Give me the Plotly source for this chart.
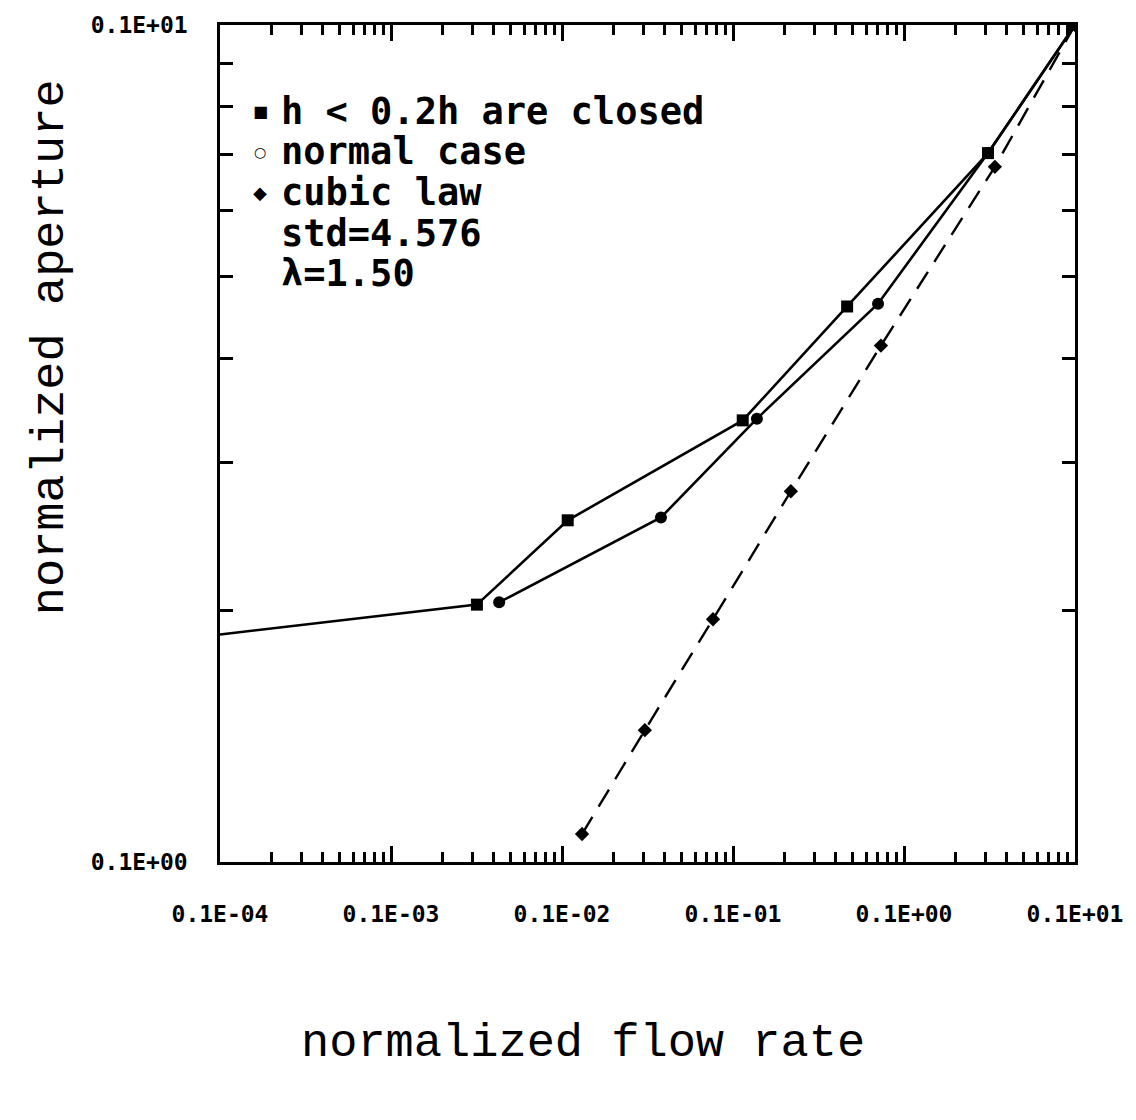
import plotly.graph_objects as go

# Normalized flow rate vs normalized aperture (log-log)
closed_q = [1.0e-5, 3.18e-4, 1.08e-3, 1.14e-2, 4.65e-2, 0.310, 1.0]
closed_h = [0.187, 0.203, 0.256, 0.337, 0.461, 0.703, 1.0]

normal_q = [4.29e-4, 3.79e-3, 1.38e-2, 7.05e-2, 0.310, 1.0]
normal_h = [0.2043, 0.258, 0.3386, 0.4646, 0.703, 1.0]

cubic_q = [1.31e-3, 3.05e-3, 7.64e-3, 2.18e-2, 7.33e-2, 0.340, 1.0]
cubic_h = [0.108, 0.1437, 0.195, 0.2773, 0.414, 0.677, 1.0]

x_decades = [1e-5, 1e-4, 1e-3, 1e-2, 1e-1, 1.0]
x_ticklabels = ["0.1E-04", "0.1E-03", "0.1E-02", "0.1E-01", "0.1E+00", "0.1E+01"]
y_major = [0.1, 1.0]
y_ticklabels = ["0.1E+00", "0.1E+01"]

legend_lines = ["h < 0.2h are closed", "normal case", "cubic law", "std=4.576", "λ=1.50"]
legend_symbols = ["■", "○", "◆", "", ""]

x_minor = [m * d for d in x_decades[:-1] for m in range(2, 10)]
y_minor = [m * 0.1 for m in range(2, 10)]

INK = "black"
fig = go.Figure()

# closed series: the line starts on the axis edge, markers from the second point on
fig.add_trace(go.Scatter(
    x=closed_q, y=closed_h, mode="lines",
    line=dict(color=INK, width=2.6),
))
fig.add_trace(go.Scatter(
    x=closed_q[1:], y=closed_h[1:], mode="markers",
    marker=dict(symbol="square", size=12, color=INK, opacity=1,
                line=dict(color=INK, width=0)),
))
fig.add_trace(go.Scatter(
    x=normal_q, y=normal_h, mode="lines+markers",
    line=dict(color=INK, width=2.6),
    marker=dict(symbol="circle", size=12, color=INK),
))
fig.add_trace(go.Scatter(
    x=cubic_q, y=cubic_h, mode="lines+markers",
    line=dict(color=INK, width=2.4, dash="20px,12px"),
    marker=dict(symbol="diamond", size=11, color=INK),
))

tick_font = dict(family="DejaVu Sans Mono", size=23, color=INK, weight="bold")

fig.update_xaxes(
    type="log", range=[-5, 0],
    showgrid=False, zeroline=False,
    showline=True, linecolor=INK, linewidth=2.5, mirror="ticks",
    ticks="inside", ticklen=16, tickwidth=2.5, tickcolor=INK,
    tickmode="array", tickvals=x_decades, ticktext=x_ticklabels,
    tickfont=tick_font, ticklabelstandoff=30,
    minor=dict(ticks="inside", ticklen=10, tickwidth=2.5, tickcolor=INK,
               tickmode="array", tickvals=x_minor, showgrid=False),
)
fig.update_yaxes(
    type="log", range=[-1, 0],
    showgrid=False, zeroline=False,
    showline=True, linecolor=INK, linewidth=2.5, mirror="ticks",
    ticks="inside", ticklen=13, tickwidth=2.5, tickcolor=INK,
    tickmode="array", tickvals=y_major, ticktext=y_ticklabels,
    tickfont=tick_font, ticklabelstandoff=25,
    minor=dict(ticks="inside", ticklen=13, tickwidth=2.5, tickcolor=INK,
               tickmode="array", tickvals=y_minor, showgrid=False),
)

# legend block drawn as text inside the plot
legend_font = dict(family="DejaVu Sans Mono", size=37, color=INK, weight="bold")
symbol_sizes = [16, 14, 18, 0, 0]
row_y = [105, 146, 187, 228, 269]
for txt, sym, ssz, py in zip(legend_lines, legend_symbols, symbol_sizes, row_y):
    yp = (862 - py) / 844
    fig.add_annotation(xref="paper", yref="paper", x=(280 - 220) / 855, y=yp,
                       xanchor="left", yanchor="middle", showarrow=False,
                       borderpad=0, text=txt, font=legend_font)
    if sym:
        fig.add_annotation(xref="paper", yref="paper", x=(260 - 220) / 855, y=yp,
                           xanchor="center", yanchor="middle", showarrow=False,
                           borderpad=0, text=sym,
                           font=dict(family="DejaVu Sans", size=ssz,
                                     color=INK, weight="bold"))

title_font = dict(family="Liberation Mono", size=47, color=INK)
fig.add_annotation(xref="paper", yref="paper", x=(583 - 220) / 855, y=(862 - 1045) / 844,
                   xanchor="center", yanchor="middle", showarrow=False,
                   text="normalized flow rate", font=title_font)
fig.add_annotation(xref="paper", yref="paper", x=(50 - 220) / 855, y=(862 - 343) / 844,
                   xanchor="center", yanchor="middle", showarrow=False, textangle=-90,
                   text="normalized aperture", font=title_font)

fig.update_layout(
    width=1136, height=1120,
    margin=dict(l=220, r=61, t=18, b=258),
    paper_bgcolor="white", plot_bgcolor="white",
    showlegend=False,
)

fig.write_html("out.html")
